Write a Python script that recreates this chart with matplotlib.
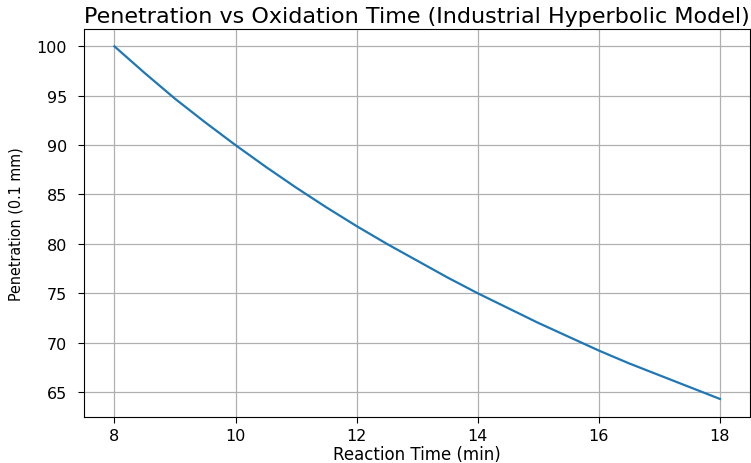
import matplotlib
matplotlib.use("Agg")
import matplotlib.pyplot as plt

reaction_time = [8.0, 8.5, 9.0, 9.5, 10.0, 10.5, 11.0, 11.5, 12.0, 12.5, 13.0,
                 13.5, 14.0, 14.5, 15.0, 15.5, 16.0, 16.5, 17.0, 17.5, 18.0]
penetration = [100.0, 97.3, 94.7, 92.3, 90.0, 87.8, 85.7, 83.7, 81.8, 80.0, 78.3,
               76.6, 75.0, 73.5, 72.0, 70.6, 69.2, 67.9, 66.7, 65.5, 64.3]

fig = plt.figure(figsize=(7.51, 4.64), dpi=100)
ax = fig.add_axes([0.112, 0.100, 0.887, 0.836])
ax.plot(reaction_time, penetration, color="#1f77b4", linewidth=1.6)
ax.set_xticks([8, 10, 12, 14, 16, 18])
ax.set_yticks([65, 70, 75, 80, 85, 90, 95, 100])
ax.grid(True, color="#b0b0b0", linewidth=0.9)
ax.set_title("Penetration vs Oxidation Time (Industrial Hyperbolic Model)", fontsize=16, pad=5)
ax.set_xlabel("Reaction Time (min)", fontsize=12, labelpad=1)
ax.set_ylabel("Penetration (0.1 mm)", fontsize=11.5, fontstretch="condensed", labelpad=9)
ax.tick_params(axis="both", labelsize=11.5, length=4.5)
ax.tick_params(axis="y", pad=8)
ax.tick_params(axis="x", pad=4)
fig.savefig("out.png", dpi=100)
